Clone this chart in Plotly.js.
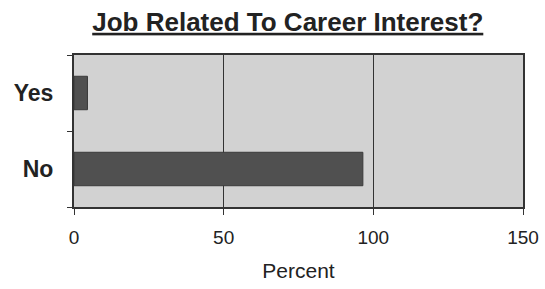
<!DOCTYPE html>
<html>
<head>
<meta charset="utf-8">
<script src="https://cdn.plot.ly/plotly-3.0.1.min.js"></script>
<style>html,body{margin:0;padding:0;background:#fff;}#chart{width:545px;height:289px;}</style>
</head>
<body>
<div id="chart"></div>
<script>
var categories = ["No", "Yes"];
var percentValues = [96.5, 4.5];
var xTickValues = [0, 50, 100, 150];
var xTickLabels = ["0", "50", "100", "150"];

var trace = {
  type: "bar",
  orientation: "h",
  y: categories,
  x: percentValues,
  width: 0.44,
  marker: {color: "#505050", line: {color: "#3a3a3a", width: 1}},
  hoverinfo: "none"
};

var layout = {
  width: 545,
  height: 289,
  margin: {l: 74, r: 22, t: 55, b: 82, pad: 0},
  paper_bgcolor: "#ffffff",
  plot_bgcolor: "#d2d2d2",
  font: {family: "Liberation Sans, Arial, sans-serif", color: "#222"},
  showlegend: false,
  title: {
    text: "<b><u>Job Related To Career Interest?</u></b>",
    font: {size: 26, color: "#222"},
    x: 0.528, xanchor: "center",
    y: 0.925, yanchor: "middle"
  },
  xaxis: {
    range: [0, 150],
    tickvals: xTickValues,
    ticktext: xTickLabels,
    tickfont: {size: 19, color: "#222"},
    ticks: "outside", ticklen: 6, tickcolor: "#333", tickwidth: 1,
    showgrid: true, gridcolor: "#333", gridwidth: 1,
    zeroline: false,
    showline: true, linecolor: "#333", linewidth: 2, mirror: true,
    ticklabelstandoff: 6,
    title: {text: "Percent", font: {size: 21, color: "#222"}, standoff: 17},
    fixedrange: true
  },
  yaxis: {
    type: "category",
    categoryorder: "array",
    categoryarray: categories,
    range: [-0.5, 1.5],
    tickfont: {size: 23, color: "#222", weight: "bold"},
    tickson: "boundaries",
    ticks: "outside", ticklen: 5, tickcolor: "#333", tickwidth: 1,
    showgrid: false,
    showline: true, linecolor: "#333", linewidth: 2, mirror: true,
    ticklabelstandoff: 14,
    fixedrange: true
  }
};

Plotly.newPlot("chart", [trace], layout, {displayModeBar: false, staticPlot: true});
</script>
</body>
</html>
